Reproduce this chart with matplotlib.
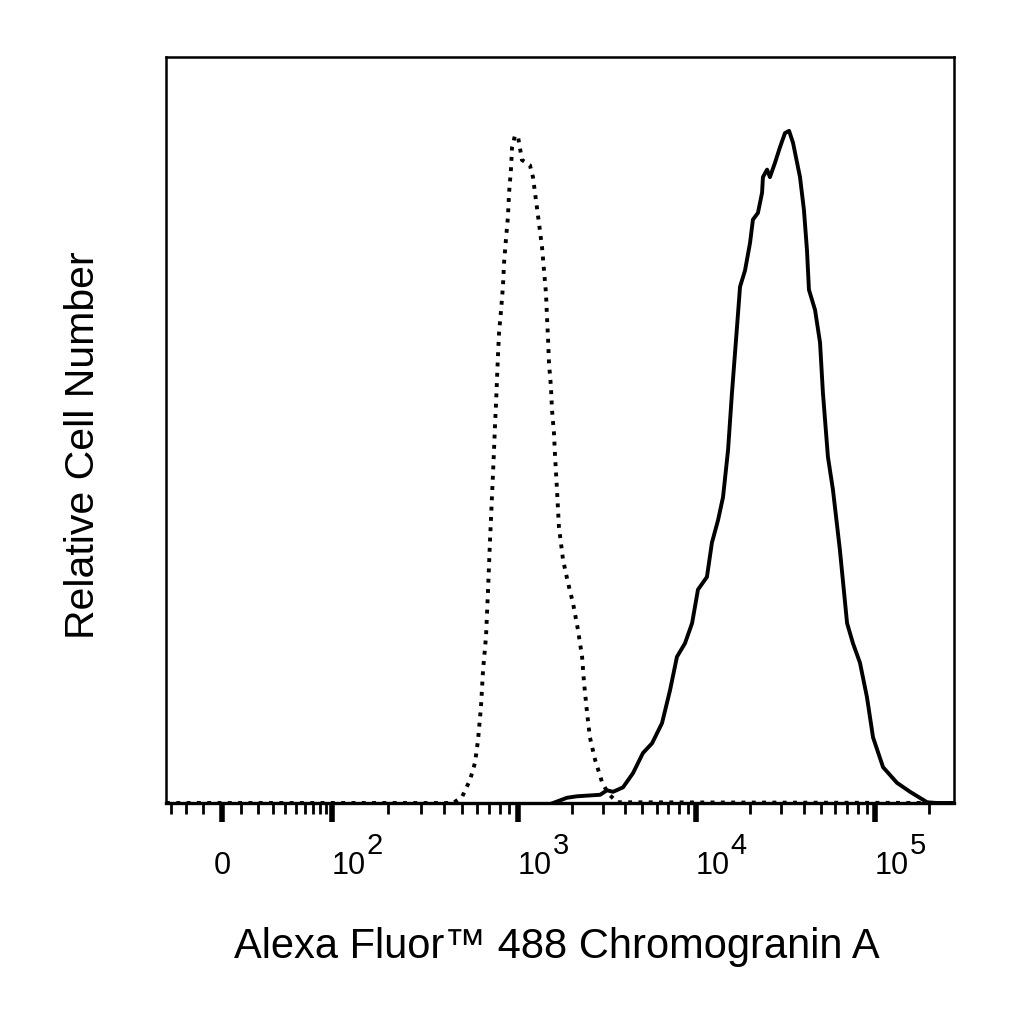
import numpy as np
import matplotlib
matplotlib.use("Agg")
from matplotlib import pyplot as plt

plt.rcParams['font.family'] = ['Liberation Sans', 'DejaVu Sans']

# isotype control (dotted), log10 of intensity vs relative count
dotted_log = [2.651, 2.699, 2.742, 2.769, 2.785, 2.801, 2.812, 2.828, 2.839, 2.849,
              2.860, 2.871, 2.876, 2.882, 2.887, 2.892, 2.898, 2.909, 2.919, 2.925,
              2.935, 2.946, 2.952, 2.962, 2.968, 2.984, 3.000, 3.011, 3.022, 3.067,
              3.084, 3.101, 3.118, 3.135, 3.146, 3.157, 3.163, 3.169, 3.174, 3.185,
              3.191, 3.202, 3.208, 3.219, 3.230, 3.253, 3.281, 3.309, 3.337, 3.360,
              3.371, 3.388, 3.404, 3.433, 3.472, 3.506, 3.556]
dotted_count = [0.0, 0.8, 3.1, 5.4, 8.4, 12.9, 17.8, 22.3, 28.6, 34.9,
                41.0, 47.3, 50.4, 53.6, 56.7, 59.8, 63.0, 66.1, 69.2, 72.4,
                75.5, 78.6, 81.8, 84.9, 87.9, 89.5, 89.3, 87.8, 86.2, 85.5,
                83.9, 80.8, 77.7, 74.5, 71.4, 68.4, 65.1, 62.1, 59.0, 55.8,
                52.7, 49.6, 46.6, 42.0, 37.0, 32.6, 29.5, 26.8, 23.2, 19.6,
                16.1, 12.1, 8.8, 5.8, 2.8, 1.3, 0.1]

# Chromogranin A stained (solid)
solid_log = [3.197, 3.275, 3.331, 3.461, 3.500, 3.534, 3.590, 3.646, 3.702, 3.753,
             3.809, 3.854, 3.893, 3.938, 3.978, 4.011, 4.061, 4.089, 4.123, 4.151,
             4.179, 4.201, 4.229, 4.246, 4.274, 4.302, 4.318, 4.346, 4.369, 4.374,
             4.397, 4.413, 4.441, 4.469, 4.497, 4.520, 4.542, 4.581, 4.603, 4.620,
             4.631, 4.665, 4.693, 4.709, 4.737, 4.765, 4.804, 4.844, 4.877, 4.916,
             4.955, 4.989, 5.045, 5.123, 5.196, 5.291, 5.346]
solid_count = [0.0, 0.7, 0.9, 1.1, 1.7, 1.5, 2.1, 4.0, 6.7, 8.0,
               10.7, 15.1, 19.6, 21.4, 24.1, 28.6, 30.3, 34.9, 37.9, 41.0,
               47.3, 55.0, 63.8, 69.2, 71.4, 75.1, 78.2, 79.1, 81.8, 83.9,
               84.9, 83.9, 85.8, 87.9, 89.8, 90.1, 88.5, 83.9, 79.5, 74.1,
               68.8, 66.1, 61.7, 55.0, 46.4, 42.0, 33.9, 24.1, 21.4, 18.8,
               14.2, 8.8, 4.8, 2.7, 1.5, 0.1, 0.0]

major_ticks = [0, 1e2, 1e3, 1e4, 1e5]
major_labels = ['0', '10', '10', '10', '10']
exponents = ['', '2', '3', '4', '5']
minor_ticks = ([-30, -20, -10] + list(range(10, 100, 10))
               + [m * 10 ** d for d in (2, 3, 4) for m in range(2, 10)] + [2e5])

# logicle-like display: linear-ish around zero, log above 100
C = 30.0
P0 = 222.0
DEC_LOGS = np.array([2.0, 3.0, 4.0, 5.0, 6.0])
DEC_POS = np.array([332.0, 518.0, 696.0, 875.0, 1054.0])
K = (DEC_POS[0] - P0) / np.arcsinh(100 / C)


def forward(x):
    x = np.asarray(x, dtype=float)
    low = P0 + K * np.arcsinh(x / C)
    lg = np.log10(np.maximum(x, 100))
    hi = np.interp(lg, DEC_LOGS, DEC_POS)
    hi = np.where(lg > 6, DEC_POS[-1] + (lg - 6) * 179, hi)
    return np.where(x < 100, low, hi)


def inverse(u):
    u = np.asarray(u, dtype=float)
    low = C * np.sinh((u - P0) / K)
    hi = 10 ** np.interp(u, DEC_POS, DEC_LOGS)
    return np.where(u < DEC_POS[0], low, hi)


fig = plt.figure(figsize=(10.24, 10.24), dpi=100)
ax = fig.add_axes([166 / 1024, 221 / 1024, 788 / 1024, 746 / 1024])
ax.set_xscale('function', functions=(forward, inverse))

xmin = float(inverse(166.0))
xmax = float(inverse(954.0))

ax.plot([xmin] + list(10 ** np.array(dotted_log)) + [xmax],
        [0] + dotted_count + [0], color='black', lw=2.8, ls=':')
ax.plot(list(10 ** np.array(solid_log)) + [xmax],
        solid_count + [0], color='black', lw=2.8, solid_joinstyle='round')

ax.set_xlim(xmin, xmax)
ax.set_ylim(0, 100)
ax.set_yticks([])

ax.set_xticks(major_ticks)
ax.set_xticks(minor_ticks, minor=True)
ax.set_xticklabels(major_labels, fontsize=22)
ax.tick_params(axis='x', which='major', direction='out', length=14,
               width=4.0, pad=37)
ax.tick_params(axis='x', which='minor', direction='out', length=8, width=2.0)
for i, lab in enumerate(ax.get_xticklabels()):
    lab.set_verticalalignment('baseline')
    lab.set_horizontalalignment('center' if i == 0 else 'left')

for val, ex in zip(major_ticks, exponents):
    if ex:
        ax.annotate(ex, xy=(val, 0), xycoords=('data', 'axes fraction'),
                    xytext=(25, -37), textcoords='offset points',
                    fontsize=21, ha='left', va='baseline', annotation_clip=False)

for side in ('left', 'right', 'top'):
    ax.spines[side].set_linewidth(1.8)
ax.spines['bottom'].set_linewidth(2.4)

ax.set_xlabel('Alexa Fluor™ 488 Chromogranin A', fontsize=30)
ax.xaxis.set_label_coords((557 - 166) / 788, (803 - 927) / 746)
ax.set_ylabel('Relative Cell Number', fontsize=29.5)
ax.yaxis.set_label_coords((102 - 166) / 788, (803 - 445) / 746)

fig.savefig('out.png', dpi=100)
